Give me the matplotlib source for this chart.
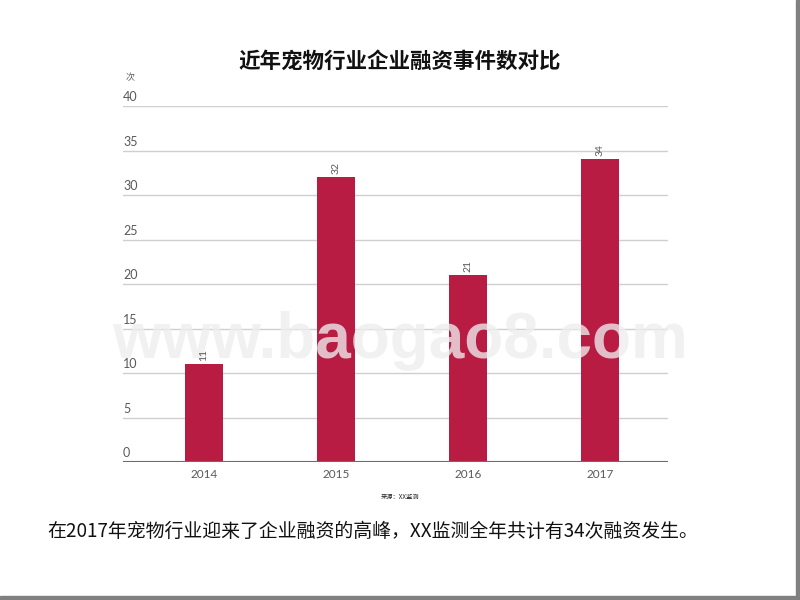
import matplotlib

matplotlib.use("Agg")
import matplotlib.pyplot as plt
from matplotlib.patches import Rectangle

plt.rcParams["font.family"] = ["Noto Sans CJK SC", "DejaVu Sans"]

# data
years = ["2014", "2015", "2016", "2017"]
events = [11, 32, 21, 34]
y_ticks = [0, 5, 10, 15, 20, 25, 30, 35, 40]

title = "近年宠物行业企业融资事件数对比"
unit = "次"
source = "来源：XX监测"
note = "在2017年宠物行业迎来了企业融资的高峰，XX监测全年共计有34次融资发生。"
watermark = "www.baogao8.com"

BAR = "#b91c43"
GREY = "#595959"

fig = plt.figure(figsize=(8, 6), dpi=100, facecolor="white")
ax = fig.add_axes([0.15375, 0.23, 0.68125, 0.5933])

x = list(range(len(years)))
ax.bar(x, events, width=0.29, color=BAR, zorder=3)

for xi, v in zip(x, events):
    ax.text(xi, v + 0.4, str(v), rotation=90, ha="center", va="bottom",
            fontsize=7.5, color=GREY, family="Lato", zorder=7)

ax.set_xlim(-0.614, 3.515)
ax.set_ylim(0, 40)

# gridlines with labels sitting above them, left aligned
for t in y_ticks[1:]:
    ax.axhline(t, color="#cfcfcf", linewidth=1.0, zorder=1)
for t in y_ticks:
    ax.annotate(str(t), xy=(0, t), xycoords=("axes fraction", "data"),
                xytext=(0, 2), textcoords="offset points",
                ha="left", va="bottom", fontsize=9, color=GREY,
                family="Lato", zorder=7)
ax.axhline(0, color="#6b6b6b", linewidth=1.5, zorder=5)

ax.set_yticks([])
ax.set_xticks(x)
ax.set_xticklabels(years, fontsize=8.5, color=GREY, family="Lato")
ax.tick_params(axis="x", length=0, pad=5)
for spine in ax.spines.values():
    spine.set_visible(False)

# watermark sits over the bars, semi-transparent
ax.text(0.5, 0.432, watermark, transform=fig.transFigure, ha="center",
        va="center", fontsize=46, fontweight="bold", family="Liberation Sans",
        color="#eeeeee", alpha=0.78, zorder=6, clip_on=False)

fig.text(0.5, 0.897, title, ha="center", va="center", fontsize=15.5,
         fontweight="bold", color="#111111")
fig.text(0.163, 0.870, unit, ha="center", va="center", fontsize=6.5, color=GREY)
fig.text(0.5, 0.172, source, ha="center", va="center", fontsize=4.5, color="#222222")
fig.text(0.059, 0.115, note, ha="left", va="center", fontsize=13.6, color="#111111")

# slide border at right and bottom
fig.patches.append(Rectangle((0.995, 0), 0.005, 1, transform=fig.transFigure,
                             color="#808080", zorder=10))
fig.patches.append(Rectangle((0, 0), 1, 0.0065, transform=fig.transFigure,
                             color="#808080", zorder=10))

fig.savefig("out.png", dpi=100, facecolor="white")
